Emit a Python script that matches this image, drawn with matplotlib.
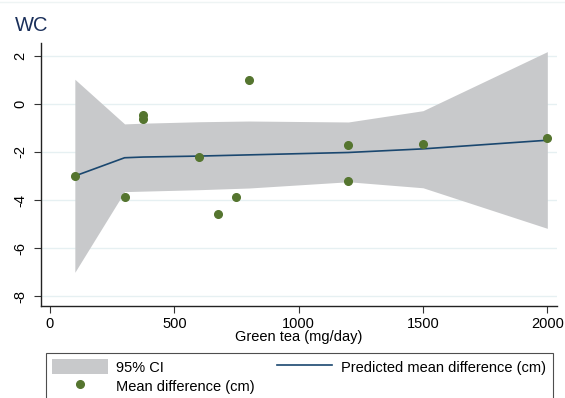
import numpy as np
import matplotlib
matplotlib.use("Agg")
from matplotlib import pyplot as plt
from matplotlib.lines import Line2D
from matplotlib.patches import Patch

plt.rcParams['font.family'] = ['Liberation Sans', 'DejaVu Sans']

# observed mean differences
dose = [100, 300, 375, 375, 600, 675, 750, 800, 1200, 1200, 1500, 2000]
mean_diff = [-3.0, -3.86, -0.47, -0.63, -2.19, -4.6, -3.86, 1.01, -1.69, -3.21, -1.65, -1.43]

# predicted curve and 95% CI
pred_dose = [100, 300, 375, 600, 800, 1200, 1500, 2000]
pred_mean = [-3.0, -2.24, -2.21, -2.17, -2.12, -2.02, -1.87, -1.51]
ci_upper = [1.03, -0.83, -0.80, -0.74, -0.71, -0.75, -0.28, 2.18]
ci_lower = [-7.01, -3.65, -3.63, -3.57, -3.50, -3.24, -3.49, -5.18]

xticks = [0, 500, 1000, 1500, 2000]
yticks = [2, 0, -2, -4, -6, -8]

gray = '#c8c9cb'
navy = '#1a476f'
green = '#55752f'

fig = plt.figure(figsize=(5.65, 3.98), dpi=100)
ax = fig.add_axes([0.0726, 0.232, 0.9124, 0.66])

ax.fill_between(pred_dose, ci_lower, ci_upper, color=gray, lw=0, zorder=1)
ax.plot(pred_dose, pred_mean, color=navy, lw=1.2, zorder=2)
ax.plot(dose, mean_diff, 'o', color=green, ms=5.5, zorder=3)

ax.set_xlim(-36, 2037)
ax.set_ylim(-8.4, 2.54)
ax.set_xticks(xticks)
ax.set_yticks(yticks)
ax.set_yticklabels([str(t) for t in yticks], rotation=90, va='center')
ax.tick_params(labelsize=10.5, length=5, width=0.8, color='#333333')
ax.tick_params(axis='y', pad=5)
ax.grid(axis='y', color='#e6f0f2', lw=1, zorder=0)
ax.set_axisbelow(True)
for side in ['top', 'right']:
    ax.spines[side].set_visible(False)
for side in ['left', 'bottom']:
    ax.spines[side].set_color('#222222')
    ax.spines[side].set_linewidth(1)

ax.set_xlabel('Green tea (mg/day)', fontsize=10.5, labelpad=-1)
fig.text(0.026, 0.935, 'WC', fontsize=14.5, color='#1a2f5a', va='center')

# faint border line at top of the figure
fig.add_artist(Line2D([0, 1], [0.994, 0.994], color='#eef4f4', lw=1))

handles = [Patch(facecolor=gray, edgecolor='none'),
           Line2D([], [], ls='none', marker='o', color=green, ms=5.5),
           Line2D([], [], color=navy, lw=1.2)]
labels = ['95% CI', 'Mean difference (cm)', 'Predicted mean difference (cm)']
leg = fig.legend(handles, labels, ncol=2, loc='upper left',
                 bbox_to_anchor=(0.081, 0.114), bbox_transform=fig.transFigure,
                 fontsize=10.5, frameon=True, fancybox=False, borderpad=0.45,
                 handlelength=3.8, handleheight=1.2, columnspacing=1.5,
                 labelspacing=0.25, handletextpad=0.6, borderaxespad=0)
leg.get_frame().set_edgecolor('#222222')
leg.get_frame().set_linewidth(0.8)

fig.savefig('out.png', dpi=100)
